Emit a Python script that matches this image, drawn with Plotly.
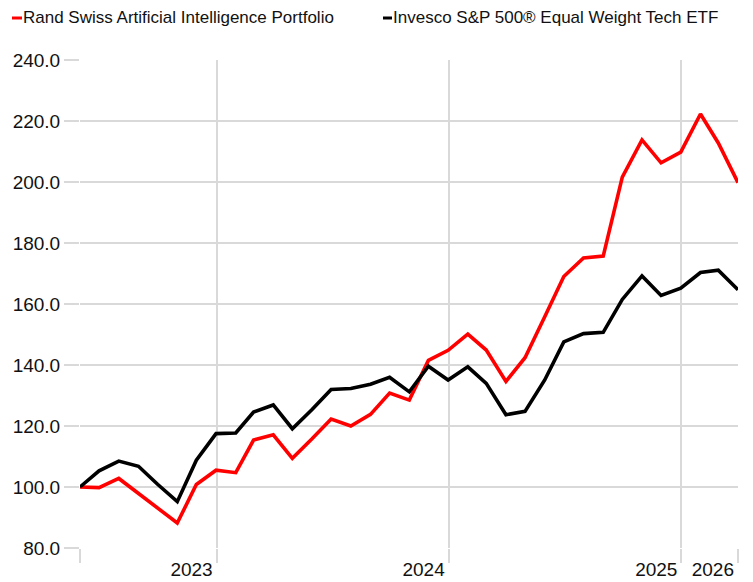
import plotly.graph_objects as go

dates = [
    "2022-05-31", "2022-06-30", "2022-07-31", "2022-08-31", "2022-09-30", "2022-10-31",
    "2022-11-30", "2022-12-31", "2023-01-31", "2023-02-28", "2023-03-31", "2023-04-30",
    "2023-05-31", "2023-06-30", "2023-07-31", "2023-08-31", "2023-09-30", "2023-10-31",
    "2023-11-30", "2023-12-31", "2024-01-31", "2024-02-29", "2024-03-31", "2024-04-30",
    "2024-05-31", "2024-06-30", "2024-07-31", "2024-08-31", "2024-09-30", "2024-10-31",
    "2024-11-30", "2024-12-31", "2025-01-31", "2025-02-28", "2025-03-31",
]

rand_swiss = [100, 99.8, 102.8, 97.8, 93.2, 88.2, 100.8, 105.5, 104.7, 115.4, 117.1, 109.4,
              115.8, 122.3, 120.0, 123.8, 130.8, 128.5, 141.5, 144.8, 150.1, 144.9, 134.6, 142.4,
              155.8, 169.0, 175.1, 175.7, 201.6, 213.8, 206.3, 209.8, 222.3, 212.8, 199.8]

invesco = [100, 105.3, 108.5, 106.8, 100.9, 95.2, 108.8, 117.5, 117.7, 124.6, 126.9, 119.1,
           125.4, 132.0, 132.3, 133.7, 136.0, 131.2, 139.6, 135.1, 139.4, 134.0, 123.7, 124.8,
           135.1, 147.6, 150.3, 150.7, 161.5, 169.2, 162.8, 165.2, 170.3, 171.1, 164.7]

series_names = ["Rand Swiss Artificial Intelligence Portfolio",
                "Invesco S&P 500® Equal Weight Tech ETF"]
series_colors = ["#ff0000", "#000000"]

tick_dates = ["2022-05-31", "2023-01-01", "2024-01-01", "2025-01-01", "2025-03-31"]
tick_labels = ["", "2023", "2024", "2025", "2026"]
y_ticks = [80, 100, 120, 140, 160, 180, 200, 220, 240]

FONT = "Liberation Sans, Arial, sans-serif"
GRID = "#d9d9d9"

fig = go.Figure()
for name, vals, col in zip(series_names, [rand_swiss, invesco], series_colors):
    fig.add_trace(go.Scatter(x=dates, y=vals, mode="lines", name=name,
                             line=dict(color=col, width=3.6), showlegend=False,
                             cliponaxis=False))

W, H = 753, 582
L, R, T, B = 80, 15, 60, 34
pw, ph = W - L - R, H - T - B

def px(x):
    return (x - L) / pw

def py(y):
    return (H - B - y) / ph

# legend drawn as small dashes + text
legend_items = [(12, 22, 21, series_names[0], series_colors[0]),
                 (383, 392, 391, series_names[1], series_colors[1])]
for x0, x1, tx, name, col in legend_items:
    fig.add_shape(type="line", xref="paper", yref="paper",
                  x0=px(x0), x1=px(x1), y0=py(18), y1=py(18),
                  line=dict(color=col, width=3))
    fig.add_annotation(xref="paper", yref="paper", x=px(tx), y=py(18),
                       xanchor="left", yanchor="middle", showarrow=False,
                       text=name, font=dict(family=FONT, size=17, color="#111"))

fig.update_layout(
    width=W, height=H,
    margin=dict(l=L, r=R, t=T, b=B, autoexpand=False),
    plot_bgcolor="white", paper_bgcolor="white",
    font=dict(family=FONT, size=19, color="#111"),
    xaxis=dict(type="date", range=[dates[0], dates[-1]],
               tickmode="array", tickvals=tick_dates, ticktext=tick_labels,
               showgrid=True, gridcolor=GRID, gridwidth=2,
               ticks="outside", ticklen=14, tickwidth=2, tickcolor=GRID,
               ticklabelposition="outside left", automargin=False,
               ticklabelstandoff=4, ticklabelshift=-3,
               showline=False, zeroline=False,
               tickfont=dict(family=FONT, size=19, color="#111")),
    yaxis=dict(range=[80, 240], tickmode="array", tickvals=y_ticks,
               ticktext=[f"{v:.1f}" for v in y_ticks], automargin=False,
               showgrid=True, gridcolor=GRID, gridwidth=2,
               ticks="outside", ticklen=15, tickwidth=2, tickcolor=GRID,
               showline=False, zeroline=False,
               tickfont=dict(family=FONT, size=19, color="#111")),
)

fig.write_html("out.html", config={"displayModeBar": False},
               post_script="document.body.style.margin='0';")
